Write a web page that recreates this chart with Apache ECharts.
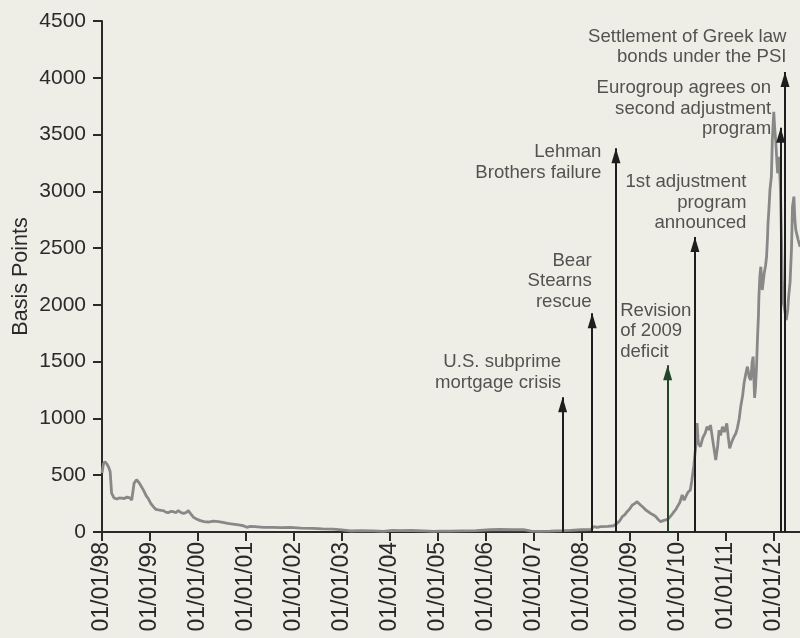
<!DOCTYPE html>
<html>
<head>
<meta charset="utf-8">
<script src="https://cdn.jsdelivr.net/npm/echarts@6/dist/echarts.min.js"></script>
<style>
  html, body { margin: 0; padding: 0; background: #eeeee7; }
  #chart { width: 800px; height: 638px; }
</style>
</head>
<body>
<div id="chart"></div>
<script>
// ---- DATA ----
const spreadDates = [
  1998.00, 1998.03, 1998.06, 1998.10, 1998.14, 1998.17, 1998.20, 1998.25, 1998.31, 1998.36,
  1998.41, 1998.47, 1998.52, 1998.58, 1998.62, 1998.67, 1998.72, 1998.75, 1998.78, 1998.81,
  1998.85, 1998.88, 1998.92, 1998.97, 1999.02, 1999.07, 1999.12, 1999.18, 1999.23, 1999.28,
  1999.33, 1999.38, 1999.44, 1999.49, 1999.54, 1999.59, 1999.65, 1999.70, 1999.75, 1999.80,
  1999.85, 1999.91, 1999.97, 2000.05, 2000.13, 2000.22, 2000.32, 2000.43, 2000.52, 2000.62,
  2000.73, 2000.85, 2000.95, 2001.02, 2001.09, 2001.19, 2001.37, 2001.55, 2001.75, 2001.92,
  2002.15, 2002.40, 2002.60, 2002.82, 2003.00, 2003.18, 2003.40, 2003.65, 2003.87, 2004.05,
  2004.22, 2004.45, 2004.70, 2004.91, 2005.05, 2005.26, 2005.50, 2005.80, 2006.10, 2006.30,
  2006.55, 2006.79, 2006.95, 2007.10, 2007.35, 2007.60, 2007.77, 2008.00, 2008.19, 2008.26,
  2008.33, 2008.40, 2008.55, 2008.67, 2008.74, 2008.80, 2008.85, 2008.90, 2008.95, 2009.00,
  2009.06, 2009.11, 2009.16, 2009.20, 2009.23, 2009.29, 2009.34, 2009.39, 2009.44, 2009.50,
  2009.55, 2009.60, 2009.65, 2009.70, 2009.76, 2009.82, 2009.88, 2009.93, 2009.97, 2010.00,
  2010.05, 2010.10, 2010.14, 2010.17, 2010.22, 2010.27, 2010.30, 2010.34, 2010.37, 2010.40,
  2010.41, 2010.43, 2010.44, 2010.48, 2010.53, 2010.58, 2010.62, 2010.66, 2010.69, 2010.74,
  2010.80, 2010.84, 2010.87, 2010.90, 2010.94, 2010.98, 2011.03, 2011.06, 2011.09, 2011.14,
  2011.18, 2011.22, 2011.25, 2011.29, 2011.32, 2011.36, 2011.39, 2011.43, 2011.46, 2011.50,
  2011.53, 2011.56, 2011.58, 2011.61, 2011.63, 2011.65, 2011.67, 2011.69, 2011.70, 2011.72,
  2011.74, 2011.77, 2011.81, 2011.84, 2011.86, 2011.88, 2011.89, 2011.91, 2011.93, 2011.96,
  2011.98, 2012.01, 2012.03, 2012.05, 2012.07, 2012.09, 2012.12, 2012.15, 2012.17, 2012.19,
  2012.21, 2012.24, 2012.27, 2012.30, 2012.32, 2012.35, 2012.38, 2012.40, 2012.43, 2012.45,
  2012.47, 2012.52, 2012.56
];
const spreadValues = [
  520, 600, 619, 600, 570, 531, 343, 300, 290, 300,
  299, 295, 308, 300, 282, 431, 460, 467, 430, 414,
  380, 355, 320, 290, 250, 223, 200, 194, 190, 188,
  175, 170, 182, 179, 170, 188, 170, 164, 170, 188,
  160, 129, 115, 100, 92, 88, 95, 91, 84, 76,
  70, 62, 55, 41, 50, 47, 41, 40, 38, 41,
  35, 32, 28, 26, 18, 9, 12, 10, 6, 15,
  12, 13, 10, 5, 8, 8, 10, 12, 20, 22,
  20, 20, 8, 6, 8, 12, 15, 20, 22, 47,
  40, 47, 50, 55, 76, 100, 135, 150, 179, 200,
  238, 250, 267, 255, 238, 215, 194, 180, 164, 150,
  135, 110, 91, 100, 106, 120, 150, 179, 200, 223,
  260, 326, 280, 297, 350, 370, 450, 575, 700, 810,
  960, 820, 781, 751, 830, 870, 927, 900, 942, 800,
  634, 760, 898, 850, 927, 880, 957, 840, 737, 800,
  839, 870, 913, 1000, 1103, 1200, 1309, 1400, 1456, 1360,
  1338, 1500, 1544, 1180, 1280, 1450, 1700, 1900, 2072, 2250,
  2336, 2131, 2278, 2350, 2424, 2600, 2718, 2850, 3012, 3129,
  3452, 3700, 3550, 3452, 3300, 3159, 3305, 3012, 2600, 2200,
  2016, 1950, 1867, 1950, 2072, 2200, 2500, 2865, 2953, 2750,
  2659, 2571, 2512
];
const yTicks = { min: 0, max: 4500, step: 500 };
const xRange = { min: 1998, max: 2012.557, step: 1 };

const eventDates = [2007.606, 2008.223, 2008.718, 2009.797, 2010.366, 2012.154, 2012.244];
const eventTips  = [1187, 1927, 3380, 1469, 2597, 3560, 4050];
const eventLabels = [
  'U.S. subprime\nmortgage crisis',
  'Bear\nStearns\nrescue',
  'Lehman\nBrothers failure',
  'Revision\nof 2009\ndeficit',
  '1st adjustment\nprogram\nannounced',
  'Eurogroup agrees on\nsecond adjustment\nprogram',
  'Settlement of Greek law\nbonds under the PSI'
];

// ---- STYLE / LAYOUT ----
const FONT = "'Liberation Sans', Arial, Helvetica, sans-serif";
const TEXT = '#2a2a2a';
const AXIS = '#2a2a2a';
const ARROW_COLORS = ['#1e1e1e', '#1e1e1e', '#1e1e1e', '#23462a', '#1e1e1e', '#1e1e1e', '#1e1e1e'];
// [dx, dy, align] offsets of each annotation text block from its arrow tip (pixels)
const LABEL_LAYOUT = [
  [-1, -4, 'right'],
  [0, -1, 'right'],
  [-14, 35, 'right'],
  [-47, -3, 'left'],
  [52, -3, 'right'],
  [-9, 12, 'right'],
  [2, -4, 'right']
];

const chart = echarts.init(document.getElementById('chart'), null, { renderer: 'canvas' });

const lineData = spreadDates.map((d, i) => [d, spreadValues[i]]);

const option = {
  backgroundColor: '#eeeee7',
  animation: false,
  grid: { left: 102, top: 21, right: 0, bottom: 106, containLabel: false, outerBoundsMode: 'none' },
  xAxis: {
    type: 'value',
    min: xRange.min,
    max: xRange.max,
    interval: xRange.step,
    splitLine: { show: false },
    axisLine: { show: true, lineStyle: { color: AXIS, width: 2 } },
    axisTick: { show: true, length: 9, inside: false, lineStyle: { color: AXIS, width: 2 } },
    axisLabel: {
      rotate: 90,
      margin: 10,
      color: TEXT,
      fontFamily: FONT,
      fontSize: 23,
      showMaxLabel: false,
      formatter: function (v) {
        if (Math.abs(v - Math.round(v)) > 1e-6) return '';
        const yy = String(Math.round(v) % 100).padStart(2, '0');
        return '01/01/' + yy;
      }
    }
  },
  yAxis: {
    type: 'value',
    min: yTicks.min,
    max: yTicks.max,
    interval: yTicks.step,
    name: 'Basis Points',
    nameLocation: 'middle',
    nameGap: 70,
    nameMoveOverlap: false,
    nameTextStyle: { color: TEXT, fontFamily: FONT, fontSize: 21.5 },
    splitLine: { show: false },
    axisLine: { show: true, lineStyle: { color: AXIS, width: 2 } },
    axisTick: { show: true, length: 9, lineStyle: { color: AXIS, width: 2 } },
    axisLabel: {
      color: TEXT, fontFamily: FONT, fontSize: 21, margin: 16,
      formatter: function (v) { return String(v); }
    }
  },
  series: [
    {
      type: 'line',
      data: lineData,
      showSymbol: false,
      symbol: 'none',
      lineStyle: { color: '#888888', width: 2.8 },
      z: 2,
      markLine: {
        silent: true,
        symbol: ['none', 'triangle'],
        symbolSize: [9, 15],
        symbolOffset: [0, [0, 7.5]],
        label: { show: false },
        lineStyle: { type: 'solid', width: 2, color: '#1e1e1e' },
        emphasis: { disabled: true },
        data: eventDates.map((d, i) => [
          { coord: [d, 0], lineStyle: { color: ARROW_COLORS[i] }, itemStyle: { color: ARROW_COLORS[i] } },
          { coord: [d, eventTips[i]] }
        ])
      }
    },
    {
      type: 'scatter',
      silent: true,
      symbolSize: 1,
      itemStyle: { color: 'rgba(0,0,0,0)' },
      z: 5,
      data: eventDates.map((d, i) => ({
        value: [d, eventTips[i]],
        label: {
          show: true,
          formatter: eventLabels[i],
          position: [LABEL_LAYOUT[i][0], LABEL_LAYOUT[i][1]],
          align: LABEL_LAYOUT[i][2],
          verticalAlign: 'bottom',
          color: TEXT,
          fontFamily: FONT,
          fontSize: 18.6,
          lineHeight: 20.5
        }
      }))
    }
  ]
};

chart.setOption(option);
</script>
</body>
</html>
